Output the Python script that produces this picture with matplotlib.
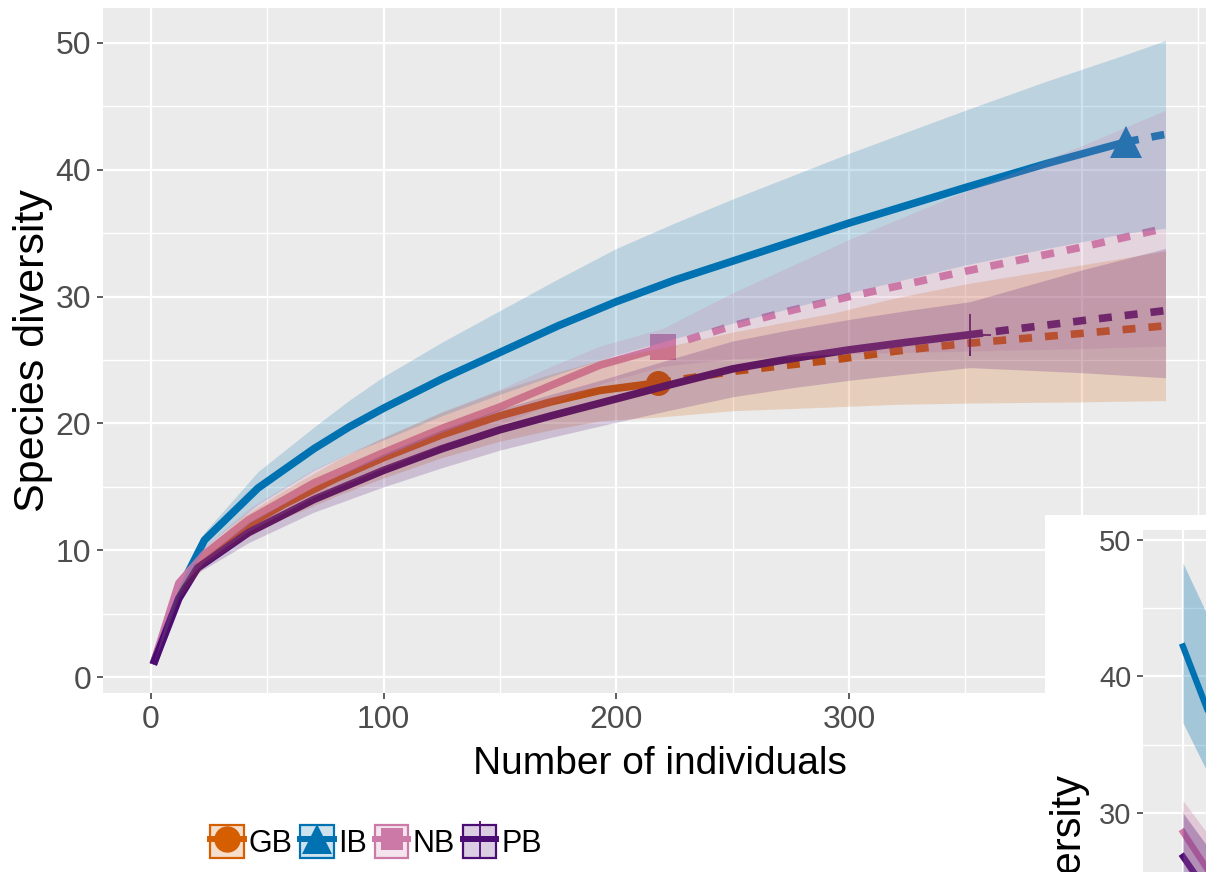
import matplotlib.pyplot as plt
from matplotlib.colors import to_rgba
from matplotlib.lines import Line2D
from matplotlib.patches import Patch, Rectangle
from matplotlib.ticker import MultipleLocator

plt.rcParams['font.family'] = ['Liberation Sans', 'DejaVu Sans']

sites = ['GB', 'IB', 'NB', 'PB']
colours = ['#D55E00', '#0072B2', '#CC79A7', '#4B0C74']
shapes = ['o', '^', 's', '+']
msizes = [18, 23, 19, 30]

# observed sample size of each site (end of the solid part)
n_obs = [218, 419, 220, 352]

# number of individuals (m), estimated richness and its 95% band, per site
gb_m = [1, 12, 23, 39, 57, 80, 100, 125, 150, 172, 193, 218, 250, 293, 320, 350, 400, 436]
gb_qd = [1.0, 6.6, 9.4, 11.7, 13.6, 15.7, 17.3, 19.1, 20.6, 21.7, 22.6, 23.2, 24.1, 25.0, 25.7, 26.3, 27.1, 27.7]
gb_lo = [1.0, 6.2, 8.8, 10.8, 12.5, 14.3, 15.7, 17.3, 18.6, 19.5, 20.2, 20.5, 21.0, 21.3, 21.5, 21.6, 21.7, 21.8]
gb_hi = [1.0, 7.0, 10.0, 12.6, 14.7, 17.1, 18.9, 20.9, 22.6, 23.9, 25.0, 25.9, 27.2, 28.7, 29.9, 31.0, 32.5, 33.6]

ib_m = [1, 12, 23, 46, 70, 85, 100, 125, 150, 175, 200, 225, 250, 275, 300, 325, 350, 385, 419, 436]
ib_qd = [1.0, 6.8, 10.8, 14.9, 18.0, 19.7, 21.2, 23.5, 25.6, 27.7, 29.6, 31.3, 32.8, 34.3, 35.8, 37.2, 38.6, 40.5, 42.2, 42.8]
ib_lo = [1.0, 6.5, 10.2, 13.6, 16.3, 17.6, 18.7, 20.6, 22.3, 23.9, 25.4, 26.7, 27.9, 29.1, 30.3, 31.4, 32.5, 33.8, 35.0, 35.4]
ib_hi = [1.0, 7.1, 11.4, 16.2, 19.7, 21.8, 23.7, 26.4, 28.9, 31.4, 33.8, 35.8, 37.7, 39.5, 41.3, 43.0, 44.7, 47.0, 49.1, 50.2]

nb_m = [1, 12, 23, 42, 70, 100, 125, 150, 172, 193, 220, 250, 275, 300, 325, 350, 400, 436]
nb_qd = [1.0, 7.4, 9.7, 12.4, 15.3, 17.7, 19.6, 21.3, 23.0, 24.6, 26.0, 27.7, 28.9, 30.0, 31.0, 32.0, 33.9, 35.4]
nb_lo = [1.0, 7.0, 9.1, 11.5, 14.2, 16.5, 18.3, 19.9, 21.5, 23.1, 24.5, 25.1, 25.3, 25.5, 25.6, 25.7, 25.9, 26.1]
nb_hi = [1.0, 7.8, 10.3, 13.3, 16.4, 18.9, 20.9, 22.7, 24.5, 26.1, 27.5, 30.3, 32.4, 34.5, 36.4, 38.3, 41.9, 44.7]

pb_m = [1, 12, 20, 42, 70, 100, 125, 150, 172, 193, 222, 250, 275, 300, 325, 352, 400, 436]
pb_qd = [1.0, 6.2, 8.6, 11.4, 14.0, 16.3, 18.0, 19.5, 20.6, 21.6, 23.0, 24.3, 25.1, 25.8, 26.4, 27.0, 28.1, 28.9]
pb_lo = [1.0, 5.9, 8.2, 10.6, 13.0, 15.0, 16.5, 17.9, 18.9, 19.8, 21.0, 22.1, 22.8, 23.4, 23.9, 24.4, 24.0, 23.6]
pb_hi = [1.0, 6.5, 9.0, 12.2, 15.0, 17.6, 19.5, 21.1, 22.3, 23.4, 25.0, 26.5, 27.4, 28.2, 28.9, 29.6, 32.1, 33.8]

# second panel, only its top-left corner is in the picture
inset_x = [0.0, 0.5]
inset_qd = [[42.2, 32.7], [28.6, 23.0], [26.8, 21.5]]
inset_lo = [[36.6, 29.2], [26.4, 20.0], [24.5, 19.0]]
inset_hi = [[48.3, 40.5], [30.9, 26.0], [30.0, 25.0]]
inset_cols = ['#0072B2', '#CC79A7', '#4B0C74']

series = [(gb_m, gb_qd, gb_lo, gb_hi), (ib_m, ib_qd, ib_lo, ib_hi),
          (nb_m, nb_qd, nb_lo, nb_hi), (pb_m, pb_qd, pb_lo, pb_hi)]

W, H = 1206, 872
fig = plt.figure(figsize=(W / 100, H / 100), dpi=100)
fig.patch.set_facecolor('white')


def px_axes(x0, y0, x1, y1, **kw):
    return fig.add_axes([x0 / W, 1 - y1 / H, (x1 - x0) / W, (y1 - y0) / H], **kw)


def gg_style(ax, fs):
    ax.set_facecolor('#EBEBEB')
    for s in ax.spines.values():
        s.set_visible(False)
    ax.grid(which='major', color='white', lw=1.6)
    ax.grid(which='minor', color='white', lw=1.0)
    ax.set_axisbelow(True)
    ax.tick_params(which='major', length=4.5, width=1.1, color='#333333',
                   labelcolor='#4D4D4D', labelsize=fs, pad=4)
    ax.tick_params(which='minor', length=0)


ax = px_axes(103, 8, 1216, 693)
gg_style(ax, 23)

for (m, qd, lo, hi), c, mk, ms, n in zip(series, colours, shapes, msizes, n_obs):
    k = m.index(n)
    ax.plot(m[:k + 1], qd[:k + 1], color=c, lw=5.5, solid_capstyle='butt',
            solid_joinstyle='round', zorder=2)
    ax.plot(m[k:], qd[k:], color=c, lw=5.5, dashes=(1.7, 1.7),
            dash_capstyle='butt', zorder=2)
    ax.plot([m[k]], [qd[k]], marker=mk, color=c, ms=ms, mew=1.3 if mk == '+' else 0,
            zorder=2)

for (m, qd, lo, hi), c in zip(series, colours):
    ax.fill_between(m, lo, hi, color=c, alpha=0.2, lw=0, zorder=3)

ax.set_xlim(-20.6, 457.7)
ax.set_ylim(-1.26, 52.76)
ax.xaxis.set_major_locator(MultipleLocator(100))
ax.xaxis.set_minor_locator(MultipleLocator(50))
ax.yaxis.set_major_locator(MultipleLocator(10))
ax.yaxis.set_minor_locator(MultipleLocator(5))
ax.set_xlabel('Number of individuals', fontsize=28, labelpad=8)
ax.set_ylabel('Species diversity', fontsize=31, labelpad=2)

# legend: ribbon key box over line + point
handles = []
for c, mk, ms in zip(colours, shapes, [19, 22, 16, 26]):
    ln = Line2D([], [], color=c, lw=4.3, marker=mk, ms=ms,
                mew=1.3 if mk == '+' else 0)
    box = Patch(facecolor=to_rgba(c, 0.2), edgecolor=c, lw=1.6)
    handles.append((ln, box))
fig.legend(handles, sites, loc='center', bbox_to_anchor=(376 / W, 1 - 842 / H),
           ncol=4, frameon=False, fontsize=22, handlelength=1.1, handleheight=1.3,
           handletextpad=0.15, columnspacing=0.25, borderpad=0)

# second panel in the lower right corner
fig.patches.append(Rectangle((1045 / W, 0), (W - 1045) / W, 1 - 515 / H,
                             transform=fig.transFigure, facecolor='white',
                             edgecolor='none', zorder=1))
ax2 = px_axes(1143, 530, 1400, 1000, zorder=2)
gg_style(ax2, 21)
for qd, lo, hi, c in zip(inset_qd, inset_lo, inset_hi, inset_cols):
    ax2.plot(inset_x, qd, color=c, lw=4.5, zorder=2)
for qd, lo, hi, c in zip(inset_qd, inset_lo, inset_hi, inset_cols):
    ax2.fill_between(inset_x, lo, hi, color=c, alpha=0.3, lw=0, zorder=3)
ax2.set_xlim(-0.4, 2.17)
ax2.set_ylim(16.3, 50.73)
ax2.xaxis.set_major_locator(MultipleLocator(1))
ax2.xaxis.set_minor_locator(MultipleLocator(0.5))
ax2.yaxis.set_major_locator(MultipleLocator(10))
ax2.yaxis.set_minor_locator(MultipleLocator(5))
ax2.tick_params(axis='x', bottom=False, labelbottom=False)
fig.text(1070 / W, 1 - 775 / H, 'Species diversity', rotation=90, fontsize=30,
         ha='center', va='top', zorder=3)

plt.savefig('out.png', dpi=100)
plt.close()
